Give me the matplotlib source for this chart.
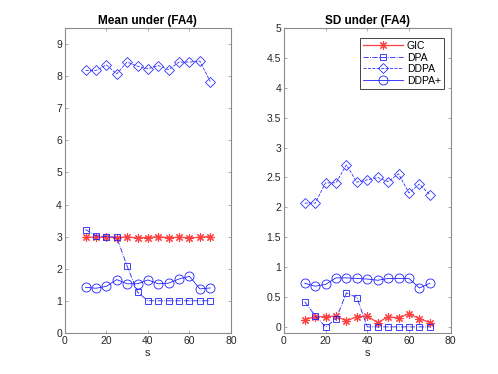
import matplotlib
matplotlib.use("Agg")
import matplotlib.pyplot as plt

s = [10, 15, 20, 25, 30, 35, 40, 45, 50, 55, 60, 65, 70]

mean_gic = [2.98, 2.98, 2.98, 2.97, 2.99, 2.96, 2.97, 3.0, 2.96, 2.98, 2.96, 2.98, 3.0]
mean_dpa = [3.22, 3.03, 3.0, 2.98, 2.08, 1.27, 1.0, 1.0, 1.0, 1.0, 1.0, 1.0, 1.0]
mean_ddpa = [8.18, 8.18, 8.35, 8.07, 8.44, 8.31, 8.23, 8.33, 8.20, 8.44, 8.44, 8.47, 7.83]
mean_ddpap = [1.42, 1.39, 1.45, 1.66, 1.53, 1.53, 1.65, 1.53, 1.55, 1.68, 1.76, 1.37, 1.40]

sd_gic = [0.12, 0.17, 0.17, 0.18, 0.10, 0.17, 0.18, 0.07, 0.17, 0.15, 0.22, 0.14, 0.07]
sd_dpa = [0.42, 0.19, 0.0, 0.13, 0.57, 0.49, 0.0, 0.0, 0.0, 0.0, 0.0, 0.0, 0.0]
sd_ddpa = [2.07, 2.07, 2.41, 2.41, 2.71, 2.42, 2.46, 2.50, 2.43, 2.56, 2.24, 2.39, 2.21]
sd_ddpap = [0.73, 0.68, 0.71, 0.82, 0.82, 0.81, 0.80, 0.78, 0.81, 0.81, 0.81, 0.65, 0.73]

labels = ["GIC", "DPA", "DDPA", "DDPA+"]
titles = ["Mean under (FA4)", "SD under (FA4)"]

plt.rcParams['font.family'] = ['Liberation Sans', 'DejaVu Sans']

fig = plt.figure(figsize=(4.98, 3.74), dpi=100)
ax1 = fig.add_axes([0.13, 0.11, 0.334, 0.815])
ax2 = fig.add_axes([0.570, 0.11, 0.335, 0.815])

def draw(ax, gic, dpa, ddpa, ddpap):
    ax.plot(s, gic, color='#ff4040', linestyle='-', lw=0.9, marker=(8, 2, 0),
            markersize=6, markeredgewidth=0.8, label=labels[0])
    ax.plot(s, dpa, color='#2020ff', linestyle='-.', lw=0.6, marker='s',
            markersize=4.5, markerfacecolor='none', markeredgewidth=0.6, label=labels[1])
    ax.plot(s, ddpa, color='#3030ff', linestyle='--', lw=0.6, marker='D',
            markersize=5, markerfacecolor='none', markeredgewidth=0.6, label=labels[2])
    ax.plot(s, ddpap, color='#2020ff', linestyle='-', lw=0.6, marker='o',
            markersize=6.5, markerfacecolor='none', markeredgewidth=0.6, label=labels[3])

draw(ax1, mean_gic, mean_dpa, mean_ddpa, mean_ddpap)
draw(ax2, sd_gic, sd_dpa, sd_ddpa, sd_ddpap)

ax1.set_xlim(0, 80)
ax1.set_ylim(0, 9.5)
ax1.set_yticks(range(0, 10))
ax2.set_xlim(0, 80)
ax2.set_ylim(-0.1, 5)
ax2.set_yticks([0, 0.5, 1, 1.5, 2, 2.5, 3, 3.5, 4, 4.5, 5])
ax2.set_yticklabels(['0', '0.5', '1', '1.5', '2', '2.5', '3', '3.5', '4', '4.5', '5'])

for ax, t in zip([ax1, ax2], titles):
    ax.set_xticks([0, 20, 40, 60, 80])
    ax.set_title(t, fontsize=8.5, fontweight='bold', pad=3)
    ax.set_xlabel('s', fontsize=8, color='#262626', labelpad=2)
    ax.tick_params(direction='in', top=True, right=True, length=2.5, width=0.5,
                   labelsize=7.5, colors='#262626', pad=2)
    for sp in ax.spines.values():
        sp.set_color('#8a8a8a')
        sp.set_linewidth(0.8)
    ax.tick_params(color='#8a8a8a')

leg = ax2.legend(loc='upper right', fontsize=7.5, handlelength=3.8, borderpad=0.3,
                 labelspacing=0.15, handletextpad=0.4, fancybox=False,
                 framealpha=1, edgecolor='#262626', bbox_to_anchor=(0.99, 0.985))
leg.get_frame().set_linewidth(0.6)

fig.savefig('out.png', dpi=100)
